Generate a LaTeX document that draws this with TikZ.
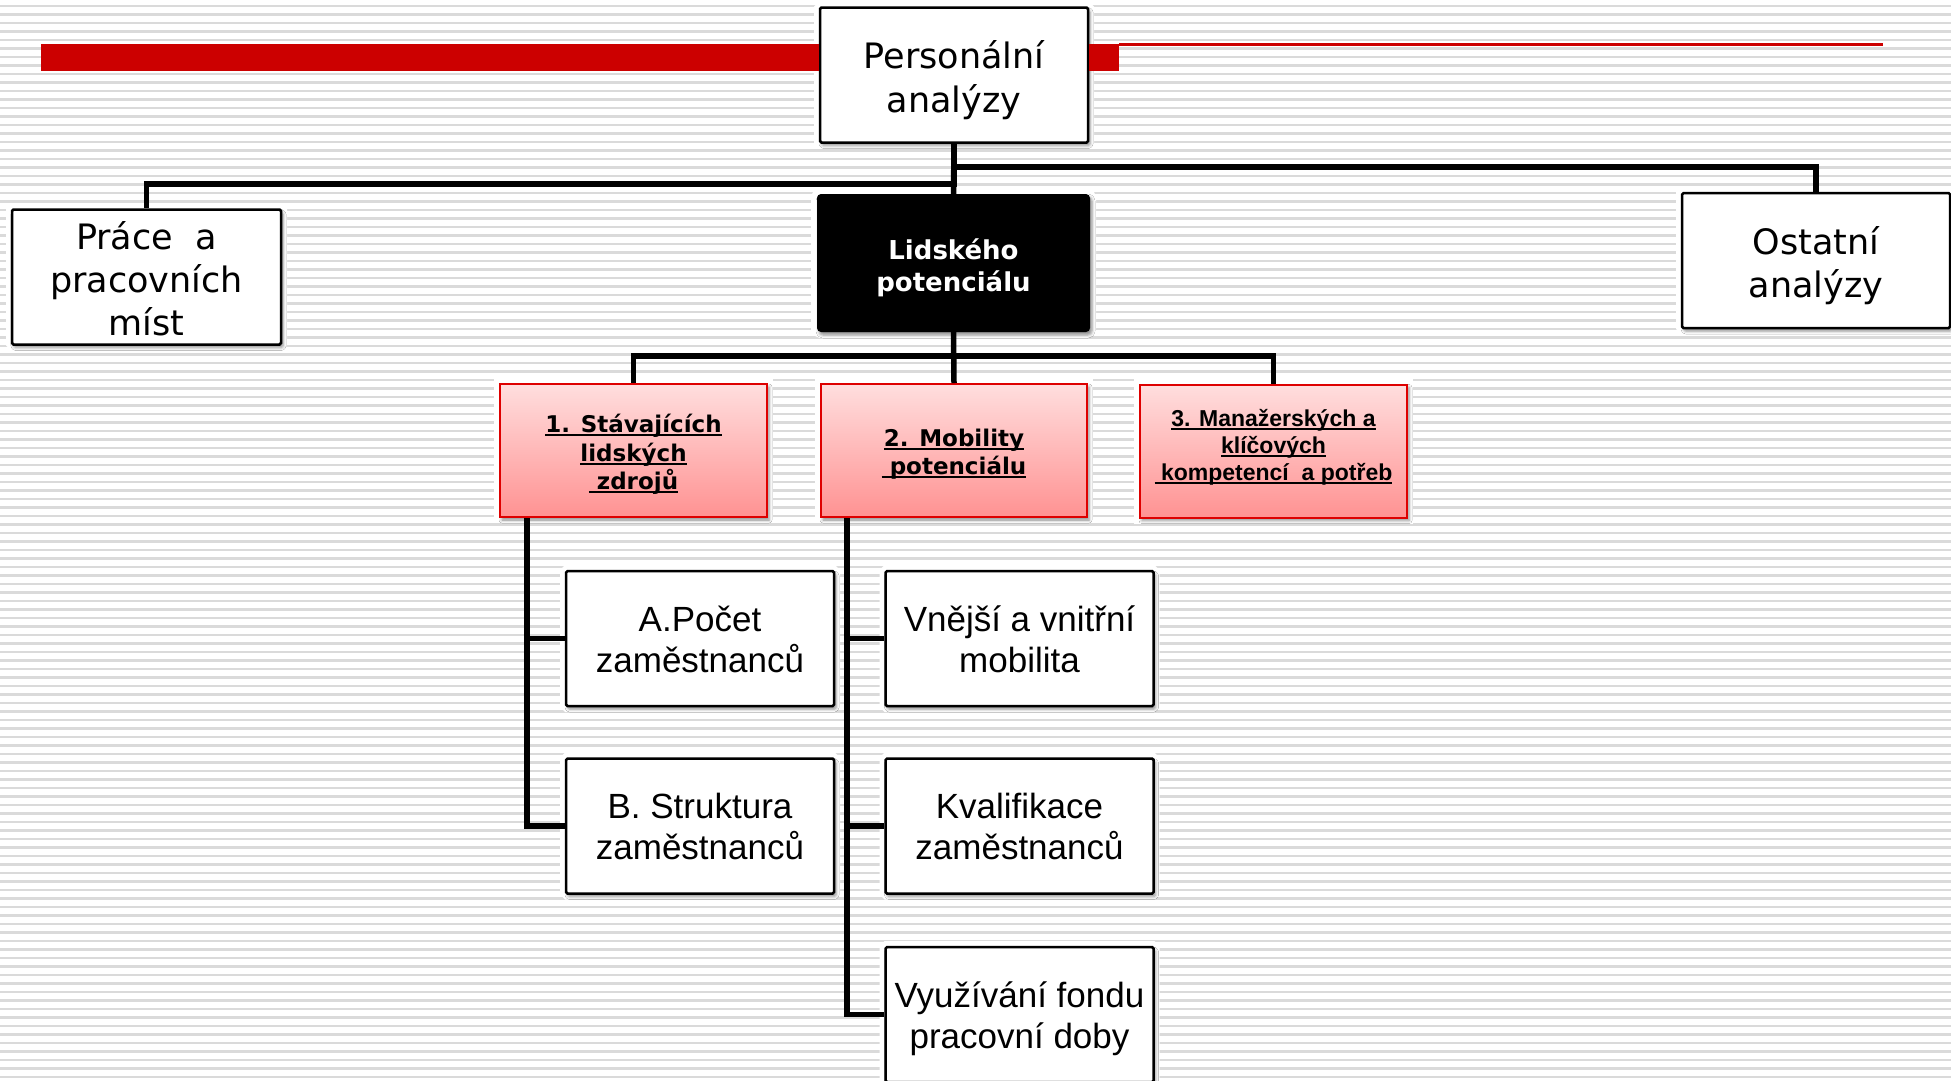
\documentclass[tikz,border=0pt]{standalone}
\usepackage{fontspec}
\usetikzlibrary{shadows.blur}
\newfontfamily\verd{DejaVu Sans}
\newfontfamily\arl{Liberation Sans}

\definecolor{barred}{RGB}{204,0,0}
\definecolor{stripegray}{RGB}{218,218,218}
\definecolor{pinktop}{RGB}{255,222,222}
\definecolor{pinkbot}{RGB}{255,146,146}
\definecolor{boxred}{RGB}{222,0,0}

% underline at a fixed depth below the baseline
\newsavebox\ulinebox
\newcommand\ulword[1]{\sbox\ulinebox{#1}\rlap{\rule[-3.5pt]{\wd\ulinebox}{2pt}}\usebox\ulinebox}

\tikzset{
  stripe/.style={draw=stripegray,line width=2.4pt},
  halo/.style={preaction={fill=white,draw=white,line width=12pt}},
  soft/.style={blur shadow={shadow xshift=2pt,shadow yshift=-3pt,shadow blur radius=3pt,shadow opacity=45}},
  basebox/.style={halo,soft,inner sep=0pt,minimum width=268pt,minimum height=135pt},
  whitebox/.style={basebox,draw=black,line width=2.5pt,fill=white,rounded corners=1.5pt},
  blackbox/.style={basebox,fill=black,rounded corners=4pt,minimum width=273pt,minimum height=138pt},
  pinkbox/.style={basebox,draw=boxred,line width=2pt,top color=pinktop,bottom color=pinkbot,minimum height=133pt},
  lbl/.style={align=center,inner sep=0pt},
  bigtxt/.style={lbl,font={\verd\fontsize{35}{43}\selectfont}},
  subtxt/.style={lbl,font={\arl\fontsize{35}{41}\selectfont}},
  boldtxt/.style={lbl,font={\verd\bfseries\fontsize{23}{28.5}\selectfont}},
  conn/.style={draw=black,line width=5.5pt,line join=miter},
}

\begin{document}
\begin{tikzpicture}[x=1pt,y=-1pt]
\useasboundingbox (0,0) rectangle (1951,1080);
\fill[white] (0,0) rectangle (1951,1080);

% striped background
\foreach \k in {0,...,126} \draw[stripe] (0,{6+8.5*\k}) -- (1951,{6+8.5*\k});

% thin part of the title rule
\draw[barred,line width=2.5pt] (1119,44.5) -- (1883,44.5);

% top level
\node[whitebox] (pers) at (954,75) {};
\node[whitebox,minimum width=269pt] (prace) at (146.5,277) {};
\node[whitebox] (ost) at (1816,260.5) {};
\node[blackbox] (lid) at (953.5,263) {};

% second level
\node[pinkbox,minimum width=267pt] (b1) at (633.5,450.5) {};
\node[pinkbox,minimum width=266pt] (b2) at (954,450.5) {};
\node[pinkbox,minimum width=267pt] (b3) at (1273.5,451) {};

% third level
\node[whitebox] (ca) at (700,638.5) {};
\node[whitebox] (cb) at (700,826) {};
\node[whitebox] (cv) at (1019.5,638.5) {};
\node[whitebox] (ck) at (1019.5,826) {};
\node[whitebox] (cu) at (1019.5,1014.5) {};

% thick part of the title rule, meeting the top box
\fill[barred] (41,44) rectangle (818.7,71);
\fill[barred] (1089.3,44) rectangle (1119,71);

% box texts
\node[bigtxt,font={\verd\fontsize{35}{44}\selectfont}] (pers-t) at ([yshift=-5pt]pers.center) {Personální\\analýzy};
\node[bigtxt] (prace-t) at ([yshift=-2pt]prace.center) {Práce~~a\\pracovních\\míst};
\node[bigtxt] (ost-t) at ([yshift=-5pt]ost.center) {Ostatní\\analýzy};
\node[lbl,text=white,font={\verd\bfseries\fontsize{26}{32}\selectfont}] (lid-t) at ([yshift=-4.5pt]lid.center) {Lidského\\potenciálu};

\node[boldtxt] (b1-t) at ([yshift=-4pt]b1.center)
  {\ulword{1. Stávajících}\\\ulword{lidských}\\\ulword{\ zdrojů}};
\node[boldtxt] (b2-t) at ([yshift=-3.5pt]b2.center)
  {\ulword{2. Mobility}\\\ulword{\ potenciálu}};
\node[lbl,font={\arl\bfseries\fontsize{23}{27}\selectfont}] (b3-t) at ([yshift=3.5pt]b3.center)
  {\ulword{3. Manažerských a}\\\ulword{klíčových}\\\ulword{\ kompetencí~~a potřeb}};

\node[subtxt] (ca-t) at ([yshift=-1pt]ca.center) {A.Počet\\zaměstnanců};
\node[subtxt] (cb-t) at ([yshift=-0.5pt]cb.center) {B. Struktura\\zaměstnanců};
\node[subtxt] (cv-t) at ([yshift=-1pt]cv.center) {Vnější a vnitřní\\mobilita};
\node[subtxt] (ck-t) at ([yshift=-0.5pt]ck.center) {Kvalifikace\\zaměstnanců};
\node[subtxt] (cu-t) at ([yshift=-4.5pt]cu.center) {Využívání fondu\\pracovní doby};

% connectors
\draw[conn] (pers.south) -- (lid.north);
\draw[conn] (pers.south) -- ++(0,40) -| (prace.north);
\draw[conn] (pers.south) -- ++(0,23) -| (ost.north);
\draw[conn] (lid.south) -- (b2.north);
\draw[conn] (lid.south) -- ++(0,24) -| (b1.north);
\draw[conn] (lid.south) -- ++(0,24) -| (b3.north);
\draw[conn] ([xshift=28pt]b1.south west) |- (ca.west);
\draw[conn] ([xshift=28pt]b1.south west) |- (cb.west);
\draw[conn] ([xshift=27pt]b2.south west) |- (cv.west);
\draw[conn] ([xshift=27pt]b2.south west) |- (ck.west);
\draw[conn] ([xshift=27pt]b2.south west) |- (cu.west);
\end{tikzpicture}
\end{document}
